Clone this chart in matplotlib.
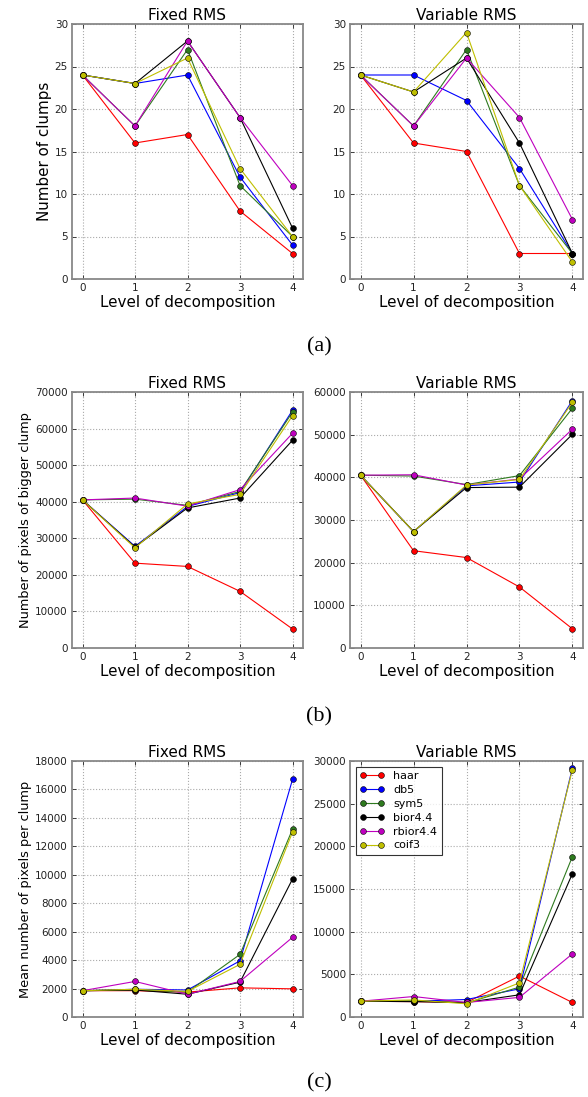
import matplotlib
matplotlib.use("Agg")
import matplotlib.pyplot as plt

# --- data ---
levels = [0, 1, 2, 3, 4]
wavelets = ["haar", "db5", "sym5", "bior4.4", "rbior4.4", "coif3"]
colors = ["r", "b", "#2f7a1f", "k", "m", "y"]

# (a) number of clumps
clumps_fixed = {
    "haar": [24, 16, 17, 8, 3],
    "db5": [24, 23, 24, 12, 4],
    "sym5": [24, 18, 27, 11, 5],
    "bior4.4": [24, 23, 28, 19, 6],
    "rbior4.4": [24, 18, 28, 19, 11],
    "coif3": [24, 23, 26, 13, 5],
}
clumps_var = {
    "haar": [24, 16, 15, 3, 3],
    "db5": [24, 24, 21, 13, 3],
    "sym5": [24, 18, 27, 11, 3],
    "bior4.4": [24, 22, 26, 16, 3],
    "rbior4.4": [24, 18, 26, 19, 7],
    "coif3": [24, 22, 29, 11, 2],
}

# (b) pixels of the bigger clump
bigger_fixed = {
    "haar": [40500, 23200, 22300, 15500, 5200],
    "db5": [40500, 27800, 38700, 42500, 65000],
    "sym5": [40500, 40700, 39000, 42800, 64500],
    "bior4.4": [40500, 27600, 38300, 41000, 56800],
    "rbior4.4": [40500, 41000, 38800, 43300, 58700],
    "coif3": [40500, 27400, 39400, 42000, 63500],
}
bigger_var = {
    "haar": [40500, 22800, 21200, 14300, 4500],
    "db5": [40500, 27300, 38000, 38900, 58000],
    "sym5": [40500, 40300, 38300, 40400, 56200],
    "bior4.4": [40500, 27300, 37600, 37700, 50100],
    "rbior4.4": [40500, 40600, 38200, 39600, 51300],
    "coif3": [40500, 27300, 38200, 39500, 57600],
}

# (c) mean pixels per clump
mean_fixed = {
    "haar": [1850, 1850, 1750, 2050, 1980],
    "db5": [1850, 1950, 1900, 3950, 16700],
    "sym5": [1850, 1900, 1750, 4400, 13200],
    "bior4.4": [1850, 1900, 1600, 2450, 9700],
    "rbior4.4": [1850, 2500, 1600, 2500, 5600],
    "coif3": [1850, 1950, 1800, 3700, 13000],
}
mean_var = {
    "haar": [1850, 1800, 1700, 4800, 1700],
    "db5": [1850, 1850, 2050, 3300, 29200],
    "sym5": [1850, 1900, 1650, 3500, 18800],
    "bior4.4": [1850, 1800, 1700, 2600, 16800],
    "rbior4.4": [1850, 2400, 1700, 2300, 7400],
    "coif3": [1850, 2000, 1550, 4000, 29000],
}

W, H = 588, 1097
fig = plt.figure(figsize=(W / 100, H / 100), dpi=100)


def add_ax(x0, x1, y0, y1):
    # pixel box, top-left origin
    return fig.add_axes([x0 / W, 1 - y1 / H, (x1 - x0) / W, (y1 - y0) / H])


def draw(ax, data, title, ymax, ystep, ylabel=None, ylabel_size=10.9, legend=False):
    for name, c in zip(wavelets, colors):
        ax.plot(levels, data[name], "-o", color=c, lw=0.8, ms=4.2,
                mec="k", mew=0.4, label=name)
    ax.set_xlim(-0.2, 4.2)
    ax.set_ylim(0, ymax)
    ax.set_xticks(levels)
    ax.set_yticks(range(0, ymax + 1, ystep))
    ax.grid(True, color="#aaaaaa", ls=":", lw=0.8)
    ax.tick_params(direction="in", length=3, width=0.6, labelsize=7.5,
                   top=True, right=True, pad=3, colors="#222222")
    for s in ax.spines.values():
        s.set_color("#888888")
        s.set_linewidth(1.3)
    ax.set_title(title, fontsize=11, pad=3)
    ax.set_xlabel("Level of decomposition", fontsize=10.9, labelpad=1)
    if ylabel:
        ax.set_ylabel(ylabel, fontsize=ylabel_size, labelpad=2)
    if legend:
        leg = ax.legend(loc="upper left", fontsize=8, numpoints=2,
                        fancybox=False, borderaxespad=0.5, handlelength=2.2,
                        labelspacing=0.35)
        leg.get_frame().set_edgecolor("k")
        leg.get_frame().set_linewidth(0.8)


rows = [(24, 279), (392, 648), (761, 1017)]
lx, rx = (72, 303), (350, 583)

ax = add_ax(*lx, *rows[0])
draw(ax, clumps_fixed, "Fixed RMS", 30, 5, "Number of clumps", 10.9)
ax = add_ax(*rx, *rows[0])
draw(ax, clumps_var, "Variable RMS", 30, 5)

ax = add_ax(*lx, *rows[1])
draw(ax, bigger_fixed, "Fixed RMS", 70000, 10000, "Number of pixels of bigger clump", 9.3)
ax = add_ax(*rx, *rows[1])
draw(ax, bigger_var, "Variable RMS", 60000, 10000)

ax = add_ax(*lx, *rows[2])
draw(ax, mean_fixed, "Fixed RMS", 18000, 2000, "Mean number of pixels per clump", 9.3)
ax = add_ax(*rx, *rows[2])
draw(ax, mean_var, "Variable RMS", 30000, 5000, legend=True)

for lab, yc in zip(["(a)", "(b)", "(c)"], [347, 717, 1083]):
    fig.text(319 / W, 1 - yc / H, lab, ha="center", va="center",
             fontsize=16, family="Liberation Serif")

fig.savefig("out.png", dpi=100)
